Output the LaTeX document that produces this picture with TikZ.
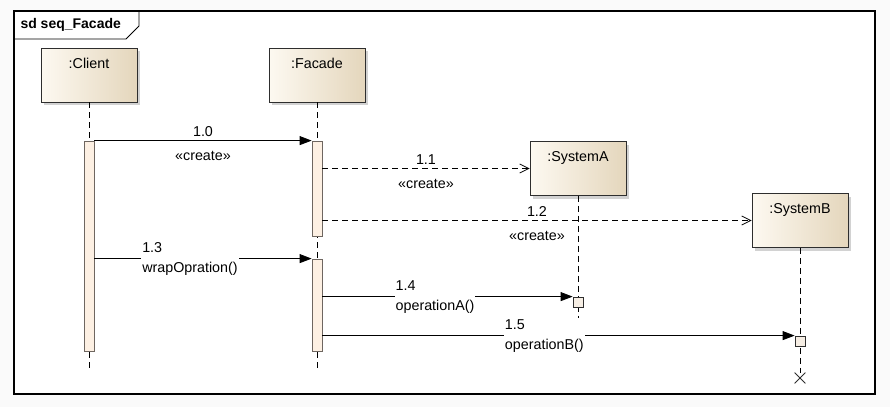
\documentclass[tikz,border=0pt]{standalone}
\usepackage{fontspec}
\setmainfont{Liberation Sans}
\usetikzlibrary{arrows.meta,positioning,shadows,shapes.misc}

\definecolor{pageGray}{HTML}{FAFAFA}
\definecolor{boxLine}{HTML}{2E2E2E}
\definecolor{boxLight}{HTML}{FDF9F1}
\definecolor{boxDark}{HTML}{E4D6BC}
\definecolor{actLine}{HTML}{6E6660}
\definecolor{actFill}{HTML}{FDF0E3}
\definecolor{execFill}{HTML}{F6EEE4}

\begin{document}
\begin{tikzpicture}[x=1pt, y=-1pt,
    font=\fontsize{14.3}{16}\selectfont,
    lifebox/.style={draw=boxLine, line width=0.9pt, minimum width=96pt, minimum height=54pt,
        inner sep=4pt, text height=16pt, text depth=30pt,
        left color=boxLight, right color=boxDark,
        drop shadow={shadow xshift=3pt, shadow yshift=-3pt, opacity=0.35, fill=gray}},
    actbox/.style={draw=actLine, line width=0.8pt, fill=actFill, minimum width=10pt, inner sep=0pt},
    execbox/.style={draw=boxLine, line width=0.8pt, fill=execFill, minimum size=10pt, inner sep=0pt},
    destroy/.style={draw=boxLine, cross out, minimum size=10pt, inner sep=0pt, line width=0.8pt},
    lifeline/.style={dash pattern=on 6pt off 4pt, line width=0.7pt},
    syncmsg/.style={line width=0.8pt, -{Triangle[length=12pt,width=9pt]}},
    createmsg/.style={line width=0.8pt, dash pattern=on 6pt off 4pt, -{Straight Barb[length=9pt,width=9pt]}},
    msglabel/.style={fill=white, align=left, inner sep=1pt, font=\fontsize{14.3}{20}\selectfont}
]
    \useasboundingbox (0,0) rectangle (890,407);
    \fill[pageGray] (0,0) rectangle (890,407);

    % Frame with its name tab
    \fill[white] (14,11) rectangle (875,394);
    \draw[line width=1.1pt] (14,11) rectangle (875,394);
    \draw[line width=0.9pt] (14,39) -- (126,39) -- (139,26) -- (139,11);
    \node[anchor=west, font=\bfseries\fontsize{14}{16}\selectfont] (title) at (17,25) {sd seq\_Facade};

    % Lifeline heads
    \node[lifebox] (client) at (89,75) {:Client};
    \node[lifebox] (facade) at (317,75) {:Facade};
    \node[lifebox] (sysA) at (578,168.5) {:SystemA};
    \node[lifebox] (sysB) at (800,220.5) {:SystemB};

    % Lifelines
    \coordinate (cEnd) at (89,368);
    \coordinate (fEnd) at (317,368);
    \coordinate (aEnd) at (578,336);
    \node[destroy] (bX) at (800,378) {};
    \draw[lifeline] (client.south) -- (cEnd);
    \draw[lifeline] (facade.south) -- (fEnd);
    \draw[lifeline] (sysA.south) -- (aEnd);
    \draw[lifeline] (sysB.south) -- (bX.north);

    % Activations
    \node[actbox, minimum height=210pt] (cAct) at (89,246) {};
    \node[actbox, minimum height=95pt] (fAct1) at (317,188.5) {};
    \node[actbox, minimum height=92pt] (fAct2) at (317,305) {};
    \node[execbox] (exA) at (578,302) {};
    \node[execbox] (exB) at (800,341) {};

    % Messages
    \draw[syncmsg] (cAct.north east) -- (fAct1.north west)
        node[midway, above] {1.0} node[midway, below=7pt] {«create»};
    \draw[createmsg] (fAct1.east |- sysA.west) -- (sysA.west)
        node[midway, above] {1.1} node[midway, below=7pt] {«create»};
    \draw[createmsg] (fAct1.east |- sysB.west) -- (sysB.west)
        node[midway, above] {1.2} node[midway, below=7pt] {«create»};
    \draw[syncmsg] (cAct.east |- fAct2.north west) -- (fAct2.north west)
        node[msglabel, pos=0.44] {1.3\\wrapOpration()};
    \draw[syncmsg] (fAct2.east |- exA.north west) -- (exA.north west)
        node[msglabel, pos=0.45] {1.4\\operationA()};
    \draw[syncmsg] (fAct2.east |- exB.north west) -- (exB.north west)
        node[msglabel, pos=0.47] {1.5\\operationB()};
\end{tikzpicture}
\end{document}
